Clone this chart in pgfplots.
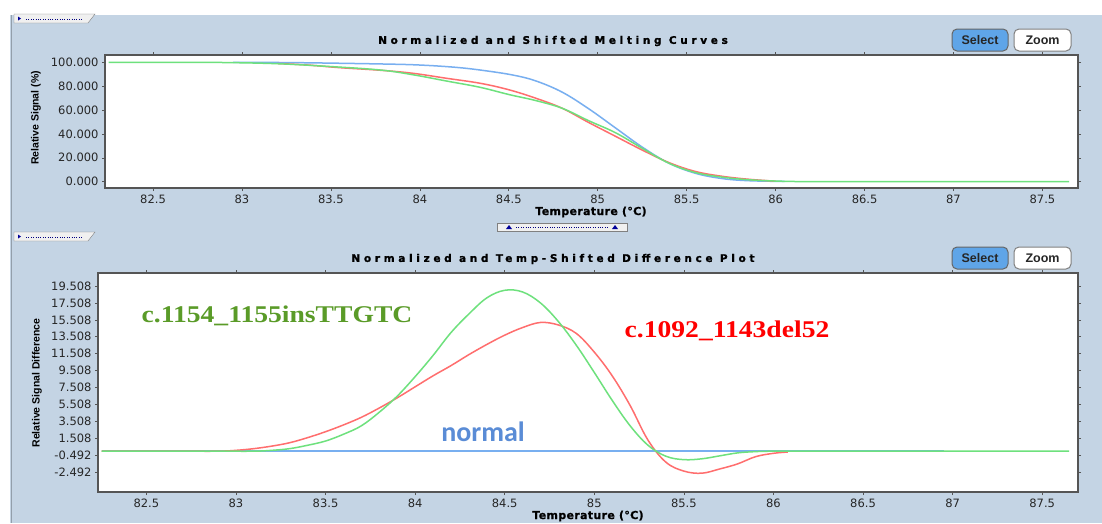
\documentclass[border=0pt]{standalone}
\usepackage{pgfplots}
\pgfplotsset{compat=1.18}
\usepackage{fontspec}
\setmainfont{Liberation Sans}
\newfontfamily\tickfont{DejaVu Sans}
\newfontfamily\titlefont{DejaVu Sans Bold}[LetterSpace=35, FakeBold=1.2]
\newfontfamily\labfont{DejaVu Sans Bold}[LetterSpace=3, FakeBold=0.8]
\newfontfamily\serifb{Liberation Serif}
\newfontfamily\carlito{Carlito}

\definecolor{bgblue}{RGB}{196,212,228}
\definecolor{cblue}{RGB}{120,175,240}
\definecolor{cred}{RGB}{255,110,110}
\definecolor{cgreen}{RGB}{110,225,125}
\definecolor{framegray}{RGB}{85,85,85}
\definecolor{labgreen}{RGB}{90,155,40}
\definecolor{labblue}{RGB}{90,140,214}
\definecolor{selblue}{RGB}{95,165,232}

\pgfplotsset{
  meltaxis/.style={
    scale only axis, anchor=north west,
    axis line style={framegray, line width=1.3pt},
    axis background/.style={fill=white},
    xmin=82.23, xmax=87.70,
    xtick={82.5,83,83.5,84,84.5,85,85.5,86,86.5,87,87.5},
    xticklabels={82.5,83,83.5,84,84.5,85,85.5,86,86.5,87,87.5},
    tick align=outside, major tick length=3pt,
    tick style={framegray, line width=0.6pt},
    tick label style={font=\tickfont\fontsize{11.5}{12}\selectfont, text=black!85},
    /pgf/number format/assume math mode=true,
    every axis plot/.append style={line width=1.5pt, smooth, tension=0.6},
  }
}

\begin{document}
\begin{tikzpicture}[x=1pt,y=-1pt]
\path[use as bounding box] (0,0) rectangle (1102,523);
\fill[white] (0,0) rectangle (1102,523);
\fill[bgblue] (10,15) rectangle (1102,523);
\draw[bgblue!75!black, line width=1pt] (11,15) -- (11,523);

% tabs and slider
\draw[gray, fill=black!6] (14,14) -- (95,14) -- (88,23) -- (14,23) -- cycle;
\fill[blue!60!black] (18,16.5) -- (21,18.5) -- (18,20.5) -- cycle;
\draw[blue!50!black, dotted] (26,19) -- (82,19);
\draw[gray, fill=black!6] (14,232) -- (95,232) -- (88,241) -- (14,241) -- cycle;
\fill[blue!60!black] (18,234.5) -- (21,236.5) -- (18,238.5) -- cycle;
\draw[blue!50!black, dotted] (26,237) -- (82,237);
\draw[gray, fill=black!6] (497,223) rectangle (627,231);
\fill[blue!60!black] (506,229) -- (509,225) -- (512,229) -- cycle;
\fill[blue!60!black] (612,229) -- (615,225) -- (618,229) -- cycle;
\draw[blue!50!black, dotted] (516,227) -- (608,227);

% buttons
\foreach \yy in {29,247}{
  \draw[rounded corners=5pt, fill=selblue, draw=black!60, line width=1pt] (952,\yy) rectangle (1008,\yy+22);
  \node[font=\bfseries\fontsize{12.5}{12}\selectfont, text=black!85] at (980,\yy+11) {Select};
  \draw[rounded corners=5pt, fill=white, draw=black!50, line width=1pt] (1014,\yy) rectangle (1071,\yy+22);
  \node[font=\bfseries\fontsize{12.5}{12}\selectfont, text=black!85] at (1042.5,\yy+11) {Zoom};
}

% titles and labels
\node[font=\titlefont\fontsize{10.5}{11}\selectfont] at (553,41) {Normalized and Shifted Melting Curves};
\node[font=\titlefont\fontsize{10.5}{11}\selectfont] at (553,259) {Normalized and Temp-Shifted Difference Plot};
\node[font=\labfont\fontsize{11}{11}\selectfont] at (591,212) {Temperature (°C)};
\node[font=\labfont\fontsize{11}{11}\selectfont] at (588,516) {Temperature (°C)};
\node[font=\bfseries\fontsize{10.5}{11}\selectfont, rotate=90] at (36,118) {Relative Signal (\%)};
\node[font=\bfseries\fontsize{10.5}{11}\selectfont, rotate=90] at (37,383) {Relative Signal Difference};

% top: melting curves
\begin{axis}[meltaxis, at={(105pt,-55pt)}, width=973pt, height=133pt,
  ymin=-5.3, ymax=106.1,
  ytick={0,20,40,60,80,100},
  yticklabels={0.000,20.000,40.000,60.000,80.000,100.000}]
\addplot[cblue] coordinates {
 (82.95,100) (83.3,99.7) (83.78,98.6) (84.0,97.7) (84.2,95.8) (84.35,93.3)
 (84.52,89.4) (84.65,84.5) (84.8,75) (84.95,61) (85.1,45) (85.25,29)
 (85.4,15.5) (85.55,7) (85.7,2.6) (85.85,0.8) (86.05,0.2)};
\addplot[cred] coordinates {
 (83.2,99) (83.37,97.7) (83.55,95.5) (83.78,93.3) (83.96,90.8) (84.15,86.6)
 (84.34,82.4) (84.5,77) (84.65,70) (84.8,61.5) (84.95,49.5) (85.1,38)
 (85.25,26.5) (85.4,16) (85.55,8.5) (85.7,4.5) (85.85,2) (86.0,0.4)};
\addplot[cgreen] coordinates {
 (82.25,100) (82.6,100) (82.9,99.8) (83.2,98.8) (83.5,96.4) (83.78,93.5) (83.96,89.6)
 (84.15,84.3) (84.34,79) (84.5,73) (84.65,68) (84.8,61.5) (84.95,51)
 (85.1,41) (85.25,28) (85.4,15.5) (85.55,7.6) (85.7,3.8) (85.85,1.6)
 (86.05,0.3) (86.3,0) (86.6,0) (87.0,0) (87.35,0) (87.65,0)};
\end{axis}

% bottom: difference plot
\begin{axis}[meltaxis, at={(98pt,-273pt)}, width=980pt, height=219pt,
  ymin=-4.82, ymax=21.04,
  ytick={-2.492,-0.492,1.508,3.508,5.508,7.508,9.508,11.508,13.508,15.508,17.508,19.508},
  yticklabels={-2.492,-0.492,1.508,3.508,5.508,7.508,9.508,11.508,13.508,15.508,17.508,19.508}]
\addplot[cblue] coordinates {(82.25,0) (86.95,0)};
\addplot[cred] coordinates {
 (82.25,0) (82.5,0) (82.7,0) (82.9,0) (83.0,0.1) (83.1,0.3) (83.2,0.6) (83.3,1.0) (83.4,1.6)
 (83.5,2.3) (83.6,3.1) (83.7,4.0) (83.8,5.1) (83.9,6.3) (84.0,7.6) (84.1,8.9)
 (84.2,10.1) (84.3,11.4) (84.4,12.6) (84.5,13.7) (84.6,14.6) (84.7,15.2)
 (84.8,14.9) (84.9,13.9) (85.0,11.7) (85.1,8.9) (85.2,5.4) (85.3,1.3)
 (85.4,-1.3) (85.5,-2.35) (85.6,-2.6) (85.7,-2.1) (85.8,-1.5) (85.9,-0.65)
 (86.0,-0.25) (86.08,-0.1)};
\addplot[cgreen] coordinates {
 (82.25,0) (82.6,0) (82.9,0) (83.1,0) (83.2,0.1) (83.3,0.3) (83.4,0.7) (83.5,1.2) (83.6,2.0)
 (83.7,3.0) (83.8,4.6) (83.9,6.5) (84.0,8.8) (84.1,11.3) (84.2,14.0)
 (84.3,16.2) (84.4,18.1) (84.5,19.0) (84.6,18.8) (84.7,17.5) (84.8,15.3)
 (84.9,12.5) (85.0,9.3) (85.1,6.0) (85.2,3.0) (85.3,0.7) (85.4,-0.6)
 (85.5,-1.0) (85.6,-0.9) (85.7,-0.55) (85.8,-0.2) (85.9,-0.05) (86.0,0)
 (86.2,0) (86.6,0) (87.0,0) (87.35,0) (87.65,0)};
\end{axis}

% annotations
\node[font=\serifb\bfseries\fontsize{24}{24}\selectfont, text=labgreen] at (277,316) {\scalebox{1.15}[1]{c.1154\_1155insTTGTC}};
\node[font=\serifb\bfseries\fontsize{24}{24}\selectfont, text=red] at (727,331) {\scalebox{1.15}[1]{c.1092\_1143del52}};
\node[font=\carlito\bfseries\fontsize{28}{28}\selectfont, text=labblue] at (483,432) {normal};
\end{tikzpicture}
\end{document}
